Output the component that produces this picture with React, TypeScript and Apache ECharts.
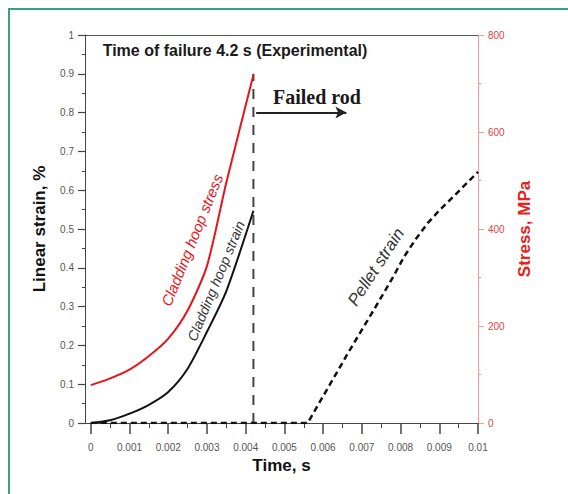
import React, { useEffect, useRef } from "react";
import * as echarts from "echarts";

// Tick values
const timeTicks = [0, 0.001, 0.002, 0.003, 0.004, 0.005, 0.006, 0.007, 0.008, 0.009, 0.01];
const timeMinorTicks = [0.0005, 0.0015, 0.0025, 0.0035, 0.0045, 0.0055, 0.0065, 0.0075, 0.0085, 0.0095];

// Cladding hoop stress (MPa, right axis)
const stressTime = [0, 0.0005, 0.001, 0.0015, 0.002, 0.0025, 0.003, 0.0035, 0.0042];
const stressMPa = [78, 92, 110, 138, 174, 232, 324, 496, 718];

// Cladding hoop strain (%)
const hoopTime = [0, 0.0005, 0.001, 0.0015, 0.002, 0.0025, 0.003, 0.0035, 0.0042];
const hoopStrain = [0, 0.007, 0.024, 0.047, 0.08, 0.14, 0.235, 0.34, 0.547];

// Pellet strain (%)
const pelletTime = [0, 0.0056, 0.0067, 0.0073, 0.0078, 0.0081, 0.0084, 0.0087, 0.009, 0.0095, 0.01];
const pelletStrain = [0, 0, 0.19, 0.29, 0.375, 0.43, 0.475, 0.515, 0.548, 0.597, 0.647];

// Failure marker
const failureTime = [0.0042, 0.0042];
const failureStrain = [0, 0.9];
const arrowStart = [0.00427, 0.8];
const arrowEnd = [0.0066, 0.8];

const SANS = '"Liberation Sans", Arial, sans-serif';
const SERIF = '"Liberation Serif", "Times New Roman", serif';

const zip = (xs: number[], ys: number[]) => xs.map((x, i) => [x, ys[i]]);

export default function App() {
  const ref = useRef<HTMLDivElement>(null);
  useEffect(() => {
    if (!ref.current) return;
    const chart = echarts.init(ref.current, undefined, { renderer: "svg" });
    const xMin = -0.00015;
    const xMax = 0.01;
    chart.setOption({
      animation: false,
      backgroundColor: "#ffffff",
      textStyle: { fontFamily: SANS },
      grid: { left: 85, right: 90, top: 35, bottom: 71, containLabel: false },
      xAxis: [
        {
          type: "value",
          min: xMin,
          max: xMax,
          position: "bottom",
          name: "Time, s",
          nameLocation: "middle",
          nameGap: 33,
          nameTextStyle: { fontSize: 17, fontWeight: "bold", color: "#111", fontFamily: SANS },
          axisLine: { show: true, onZero: false, lineStyle: { color: "#444", width: 1 } },
          axisTick: { show: true, customValues: timeTicks, length: 11, lineStyle: { color: "#444", width: 1.5 } },
          axisLabel: {
            show: true,
            customValues: timeTicks,
            fontSize: 10,
            color: "#555",
            margin: 19,
            formatter: (v: number) => (v === 0 ? "0" : String(v)),
          },
          splitLine: { show: false },
        },
        {
          type: "value",
          min: xMin,
          max: xMax,
          position: "bottom",
          axisLine: { show: false, onZero: false },
          axisTick: { show: true, customValues: timeMinorTicks, length: 5, lineStyle: { color: "#444", width: 1 } },
          axisLabel: { show: false },
          splitLine: { show: false },
        },
        {
          type: "value",
          min: xMin,
          max: xMax,
          position: "top",
          axisLine: { show: true, onZero: false, lineStyle: { color: "#555", width: 1 } },
          axisTick: { show: false },
          axisLabel: { show: false },
          splitLine: { show: false },
        },
      ],
      yAxis: [
        {
          type: "value",
          min: 0,
          max: 1,
          interval: 0.1,
          position: "left",
          name: "Linear strain, %",
          nameLocation: "middle",
          nameRotate: 90,
          nameGap: 37,
          nameTextStyle: { fontSize: 17, fontWeight: "bold", color: "#111", fontFamily: SANS },
          axisLine: { show: true, onZero: false, lineStyle: { color: "#444", width: 1 } },
          axisTick: { show: true, length: 7, lineStyle: { color: "#444", width: 1.2 } },
          minorTick: { show: true, splitNumber: 2, length: 3, lineStyle: { color: "#444" } },
          axisLabel: {
            fontSize: 10,
            color: "#555",
            margin: 11,
            formatter: (v: number) => String(Math.round(v * 10) / 10),
          },
          splitLine: { show: false },
        },
        {
          type: "value",
          min: 0,
          max: 800,
          interval: 200,
          position: "right",
          name: "Stress, MPa",
          nameLocation: "middle",
          nameRotate: 90,
          nameGap: 32,
          nameTextStyle: { fontSize: 17, fontWeight: "bold", color: "#e3231c", fontFamily: SANS },
          axisLine: { show: true, onZero: false, lineStyle: { color: "#f19a98", width: 1 } },
          axisTick: { show: true, length: 6, lineStyle: { color: "#f19a98", width: 1 } },
          minorTick: { show: true, splitNumber: 2, length: 3, lineStyle: { color: "#f19a98" } },
          axisLabel: { fontSize: 10, color: "#e3433c", margin: 10 },
          splitLine: { show: false },
        },
      ],
      series: [
        {
          name: "Cladding hoop stress",
          type: "line",
          xAxisIndex: 0,
          yAxisIndex: 1,
          data: zip(stressTime, stressMPa),
          smooth: 0.25,
          showSymbol: false,
          symbol: "none",
          lineStyle: { color: "#e8141a", width: 2 },
          z: 3,
        },
        {
          name: "Cladding hoop strain",
          type: "line",
          xAxisIndex: 0,
          yAxisIndex: 0,
          data: zip(hoopTime, hoopStrain),
          smooth: 0.25,
          showSymbol: false,
          symbol: "none",
          lineStyle: { color: "#111", width: 2 },
          z: 3,
        },
        {
          name: "Pellet strain",
          type: "line",
          xAxisIndex: 0,
          yAxisIndex: 0,
          data: zip(pelletTime, pelletStrain),
          smooth: false,
          showSymbol: false,
          symbol: "none",
          lineStyle: { color: "#111", width: 2.5, type: [6, 4] },
          z: 3,
        },
        {
          name: "Failure",
          type: "line",
          xAxisIndex: 0,
          yAxisIndex: 0,
          data: zip(failureTime, failureStrain),
          showSymbol: false,
          symbol: "none",
          lineStyle: { color: "#444", width: 2, type: [10, 8] },
          z: 2,
          markLine: {
            silent: true,
            symbol: ["none", "arrow"],
            symbolSize: [9, 11],
            label: { show: false },
            lineStyle: { color: "#222", width: 2, type: "solid" },
            data: [[{ coord: arrowStart }, { coord: arrowEnd }]],
          },
        },
      ],
      graphic: [
        {
          type: "rect",
          z: -10,
          silent: true,
          shape: { x: 9, y: 9, width: 800, height: 800 },
          style: { fill: "none", stroke: "#3a9d90", lineWidth: 2 },
        },
        {
          type: "text",
          x: 235,
          y: 50,
          style: {
            text: "Time of failure 4.2 s (Experimental)",
            fontSize: 16,
            fontWeight: "bold",
            fontFamily: SANS,
            fill: "#1a1a1a",
            align: "center",
            verticalAlign: "middle",
          },
        },
        {
          type: "text",
          x: 317,
          y: 97,
          style: {
            text: "Failed rod",
            fontSize: 20,
            fontWeight: "bold",
            fontFamily: SERIF,
            fill: "#1a1a1a",
            align: "center",
            verticalAlign: "middle",
          },
        },
        {
          type: "text",
          x: 192,
          y: 240,
          rotation: (68 * Math.PI) / 180,
          style: {
            text: "Cladding hoop stress",
            fontSize: 15,
            fontStyle: "italic",
            fontFamily: SANS,
            fill: "#e8141a",
            align: "center",
            verticalAlign: "middle",
          },
        },
        {
          type: "text",
          x: 216,
          y: 281,
          rotation: (67.5 * Math.PI) / 180,
          style: {
            text: "Cladding hoop strain",
            fontSize: 14,
            fontStyle: "italic",
            fontFamily: SANS,
            fill: "#333",
            align: "center",
            verticalAlign: "middle",
          },
        },
        {
          type: "text",
          x: 376,
          y: 267,
          rotation: (57 * Math.PI) / 180,
          style: {
            text: "Pellet strain",
            fontSize: 17,
            fontStyle: "italic",
            fontFamily: SANS,
            fill: "#333",
            align: "center",
            verticalAlign: "middle",
          },
        },
      ],
    });
    return () => chart.dispose();
  }, []);
  return (
    <div
      ref={ref}
      style={{ position: "fixed", left: 0, top: 0, width: 568, height: 494, background: "#fff" }}
    />
  );
}
